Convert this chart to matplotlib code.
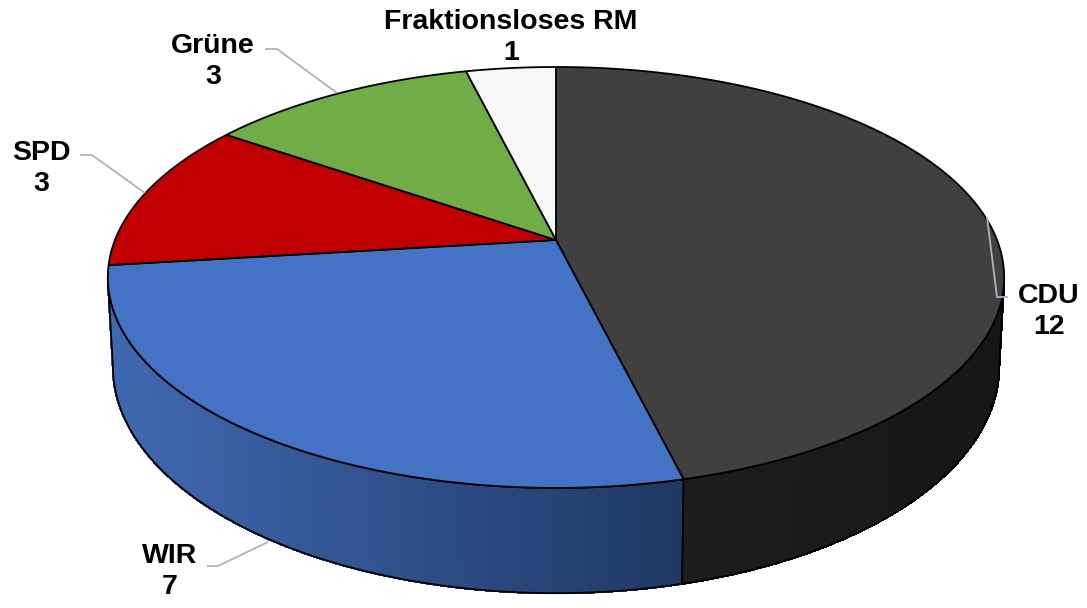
"""3D-Tortendiagramm: Sitzverteilung im Rat (Excel-Stil nachgebaut)."""
import numpy as np
import matplotlib
matplotlib.use("Agg")
import matplotlib.pyplot as plt  # noqa: E402
from matplotlib.patches import Polygon  # noqa: E402
from matplotlib.colors import to_rgb  # noqa: E402

# Daten
parties = ["CDU", "WIR", "SPD", "Grüne", "Fraktionsloses RM"]
seats = [12, 7, 3, 3, 1]

# Farben: Oberseite und Seitenwand (links -> rechts Verlauf)
TOP_COLORS = ["#404040", "#4472c4", "#c00000", "#70ad47", "#f7f7f7"]
SIDE_COLORS = [("#1d1d1d", "#161616"), ("#4068b2", "#1f3864"),
               ("#8c0000", "#700000"), ("#507d33", "#3f6428"),
               ("#d0d0d0", "#b0b0b0")]
LEADER = "#a9b3c2"

# Geometrie (Pixel) – Perspektive der Scheibe
CX, CY = 556, 240
A_TOP, A_BOT = 441, 436
B, K, H = 203.8, 0.178, 86.5

# Beschriftungen: (x, y Zeile 1) und Führungslinien
LABEL_POS = {"CDU": (1049, 296), "WIR": (170, 556), "SPD": (41, 153),
             "Grüne": (213, 46), "Fraktionsloses RM": (511, 22)}
LEADERS = {"CDU": [(1008, 297), (997, 297), (987, 217)],
           "WIR": [(207, 566), (218, 566), (268, 542)],
           "SPD": [(80, 155), (92, 155), (145, 193)],
           "Grüne": [(265, 49), (277, 49), (337, 93)]}


def project(theta, z):
    th = np.radians(theta)
    u, v = np.sin(th), -np.cos(th)
    w = 1 - K * v
    a = A_TOP + (A_BOT - A_TOP) * z
    return CX + a * u / w, CY + (B * v + H * z) / w


def mix(c1, c2, t):
    c1, c2 = np.array(to_rgb(c1)), np.array(to_rgb(c2))
    return tuple(c1 + (c2 - c1) * t)


fig = plt.figure(figsize=(10.87, 6.08), dpi=100)
ax = fig.add_axes([0, 0, 1, 1])
ax.set_xlim(0, 1087)
ax.set_ylim(608, 0)
ax.axis("off")

total = sum(seats)
bounds = np.concatenate([[0], np.cumsum(seats)]) / total * 360
vis_lo = np.degrees(np.arccos(-K))
vis_hi = 360 - vis_lo

# Seitenwände (nur vorne sichtbar)
for i in range(len(seats)):
    t0, t1 = max(bounds[i], vis_lo), min(bounds[i + 1], vis_hi)
    if t1 <= t0:
        continue
    ths = np.linspace(t0, t1, 160)
    xt, yt = project(ths, 0)
    xb, yb = project(ths, 1)
    xmin, xmax = xt.min(), xt.max()
    # Grundfläche in der Mittelfarbe, darüber die Verlaufsstreifen
    outline = list(zip(xt, yt)) + list(zip(xb[::-1], yb[::-1]))
    ax.add_patch(Polygon(outline, closed=True,
                         fc=mix(*SIDE_COLORS[i], 0.5), ec="none", zorder=1))
    for j in range(len(ths) - 1):
        xm = (xt[j] + xt[j + 1]) / 2
        col = mix(*SIDE_COLORS[i], (xm - xmin) / (xmax - xmin))
        quad = [(xt[j], yt[j]), (xt[j + 1], yt[j + 1]),
                (xb[j + 1], yb[j + 1]), (xb[j], yb[j])]
        ax.add_patch(Polygon(quad, closed=True, fc=col, ec=col, lw=1.0,
                             antialiased=False, zorder=1.5))
    ax.add_patch(Polygon(outline, closed=True, fc="none", ec="black",
                         lw=1.3, zorder=2, joinstyle="round"))

# Oberseite
for i in range(len(seats)):
    ths = np.linspace(bounds[i], bounds[i + 1], 200)
    xs, ys = project(ths, 0)
    pts = [(CX, CY)] + list(zip(xs, ys))
    ax.add_patch(Polygon(pts, closed=True, fc=TOP_COLORS[i], ec="black",
                         lw=1.3, zorder=3, joinstyle="round"))

# Führungslinien und Beschriftungen
for name, pts in LEADERS.items():
    xs, ys = zip(*pts)
    ax.plot(xs, ys, color=LEADER, lw=1.3, zorder=4, solid_capstyle="butt")

for name, n in zip(parties, seats):
    x, y = LABEL_POS[name]
    ax.text(x, y, name, ha="center", va="center", fontsize=20.5,
            fontweight="bold", family="Liberation Sans", color="black",
            zorder=5)
    ax.text(x, y + 31, str(n), ha="center", va="center", fontsize=20.5,
            fontweight="bold", family="Liberation Sans", color="black",
            zorder=5)

fig.savefig("out.png", dpi=100, facecolor="white")
